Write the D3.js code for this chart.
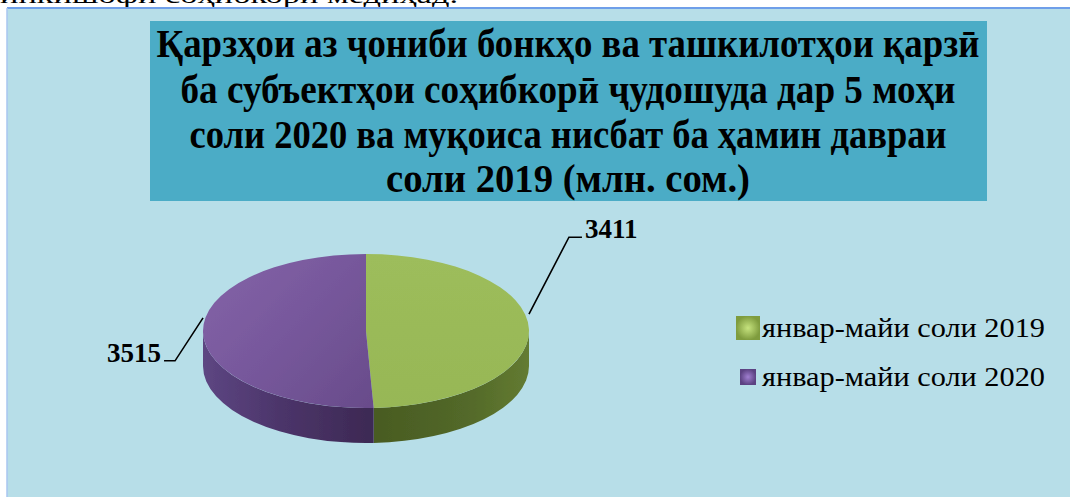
<!DOCTYPE html>
<html>
<head>
<meta charset="utf-8">
<script src="https://cdn.jsdelivr.net/npm/d3@7"></script>
<style>
  html, body { margin: 0; padding: 0; background: #ffffff; overflow: hidden; }
  svg { display: block; }
</style>
</head>
<body>
<svg id="chart" width="1070" height="497"></svg>
<script>
// ---- data ----
const categories = ["январ-майи соли 2019", "январ-майи соли 2020"];
const values = [3411, 3515];
const titleLines = [
  "Қарзҳои аз ҷониби бонкҳо ва ташкилотҳои қарзӣ",
  "ба субъектҳои соҳибкорӣ ҷудошуда дар 5 моҳи",
  "соли 2020 ва муқоиса нисбат ба ҳамин давраи",
  "соли 2019 (млн. сом.)"
];
const topCutText = "инкишофи соҳибкорӣ медиҳад.";

// ---- layout / style ----
const W = 1070, H = 497;
const svg = d3.select("#chart");
const defs = svg.append("defs");

// clipped line of document text above chart
svg.append("text")
  .attr("x", 0).attr("y", 3)
  .attr("font-family", "Liberation Serif, Times New Roman, serif")
  .attr("font-size", 24)
  .attr("textLength", 458).attr("lengthAdjust", "spacingAndGlyphs")
  .attr("fill", "#000")
  .text(topCutText);

// chart area
svg.append("rect")
  .attr("x", 7).attr("y", 8).attr("width", W).attr("height", H)
  .attr("fill", "#b7dee8");
svg.append("line").attr("x1", 7).attr("x2", W).attr("y1", 8).attr("y2", 8)
  .attr("stroke", "#6f9fe9").attr("stroke-width", 2);
svg.append("line").attr("x1", 7).attr("x2", 7).attr("y1", 8).attr("y2", H)
  .attr("stroke", "#a9c6f0").attr("stroke-width", 1.5);

// title box
svg.append("rect")
  .attr("x", 150).attr("y", 21).attr("width", 837).attr("height", 180)
  .attr("fill", "#4bacc6");
const titleBase = [57, 103, 148, 192];
const titleWidths = [823, 775, 757, 364];
titleLines.forEach((t, i) => {
  svg.append("text")
    .attr("x", 568).attr("y", titleBase[i])
    .attr("text-anchor", "middle")
    .attr("font-family", "Liberation Serif, Times New Roman, serif")
    .attr("font-weight", "bold")
    .attr("font-size", 39)
    .attr("textLength", titleWidths[i]).attr("lengthAdjust", "spacingAndGlyphs")
    .attr("fill", "#000")
    .text(t);
});

// ---- 3D pie ----
const cx = 366, cy = 331, rx = 163, ry = 77, depth = 35;
const pie = d3.pie().sort(null).value(d => d)(values);

function lg(id, x1, y1, x2, y2, stops) {
  const g = defs.append("linearGradient").attr("id", id)
    .attr("gradientUnits", "userSpaceOnUse")
    .attr("x1", x1).attr("y1", y1).attr("x2", x2).attr("y2", y2);
  stops.forEach(s => g.append("stop").attr("offset", s[0]).attr("stop-color", s[1]));
}
lg("topG", cx, cy - ry, cx, cy + ry, [[0, "#9dbd5b"], [1, "#97b756"]]);
lg("topP", cx - rx, cy - ry, cx, cy + ry, [[0, "#8563a8"], [0.5, "#77589c"], [1, "#694c8b"]]);
lg("wallG", cx, 0, cx + rx, 0, [[0, "#485a21"], [0.6, "#526829"], [1, "#637b31"]]);
lg("wallP", cx - rx, 0, cx, 0, [[0, "#5d4682"], [0.5, "#4b3469"], [1, "#3e2a55"]]);
const topFill = ["url(#topG)", "url(#topP)"];
const wallFill = ["url(#wallG)", "url(#wallP)"];

function pt(a, dy = 0) {
  return [cx + rx * Math.sin(a), cy - ry * Math.cos(a) + dy];
}
function topPath(d) {
  const p0 = pt(d.startAngle), p1 = pt(d.endAngle);
  const large = (d.endAngle - d.startAngle) > Math.PI ? 1 : 0;
  return `M${cx},${cy}L${p0}A${rx},${ry} 0 ${large} 1 ${p1}Z`;
}
function wallPath(d) {
  const s = Math.max(d.startAngle, Math.PI / 2), e = Math.min(d.endAngle, 3 * Math.PI / 2);
  if (s >= e) return null;
  const a = pt(s), b = pt(e), bb = pt(e, depth), ab = pt(s, depth);
  return `M${a}A${rx},${ry} 0 0 1 ${b}L${bb}A${rx},${ry} 0 0 0 ${ab}Z`;
}

const blur = defs.append("filter").attr("id", "soft");
blur.append("feGaussianBlur").attr("stdDeviation", 0.6);

const pieG = svg.append("g").attr("filter", "url(#soft)");
pie.forEach((d, i) => {
  const wp = wallPath(d);
  if (wp) pieG.append("path").attr("d", wp).attr("fill", wallFill[i]);
});
pie.forEach((d, i) => {
  pieG.append("path").attr("d", topPath(d)).attr("fill", topFill[i]);
});

// ---- data labels with leader lines ----
const labelLayout = [
  { dx: 40, dy: -77, hx: 13, side: 1 },
  { dx: -28, dy: 43, hx: -11, side: -1 }
];
pie.forEach((d, i) => {
  const mid = (d.startAngle + d.endAngle) / 2;
  const a = pt(mid, -15);
  const L = labelLayout[i];
  const b = [a[0] + L.dx, a[1] + L.dy];
  const c = [b[0] + L.hx, b[1]];
  svg.append("path")
    .attr("d", `M${a}L${b}L${c}`)
    .attr("fill", "none").attr("stroke", "#000").attr("stroke-width", 1.6);
  svg.append("text")
    .attr("x", c[0] + (L.side > 0 ? 3 : -3)).attr("y", c[1] + 1)
    .attr("text-anchor", L.side > 0 ? "start" : "end")
    .attr("font-family", "Liberation Serif, Times New Roman, serif")
    .attr("font-weight", "bold").attr("font-size", 27)
    .attr("fill", "#000")
    .text(d3.format("d")(values[i]));
});

// ---- legend ----
const rg = (id, c0, c1) => {
  const g = defs.append("radialGradient").attr("id", id);
  g.append("stop").attr("offset", 0).attr("stop-color", c0);
  g.append("stop").attr("offset", 1).attr("stop-color", c1);
};
rg("legG", "#c6e37e", "#7f9c3e");
rg("legP", "#a07fd0", "#5c4282");
const legFill = ["url(#legG)", "url(#legP)"];
const legSize = [24, 16];
const legY = [337, 386];
categories.forEach((c, i) => {
  const s = legSize[i];
  svg.append("rect")
    .attr("x", 748 - s / 2).attr("y", legY[i] - 9 - s / 2)
    .attr("width", s).attr("height", s)
    .attr("fill", legFill[i]);
  svg.append("text")
    .attr("x", 762).attr("y", legY[i])
    .attr("font-family", "Liberation Serif, Times New Roman, serif")
    .attr("font-size", 27)
    .attr("textLength", 283).attr("lengthAdjust", "spacingAndGlyphs")
    .attr("fill", "#000")
    .text(c);
});
</script>
</body>
</html>
